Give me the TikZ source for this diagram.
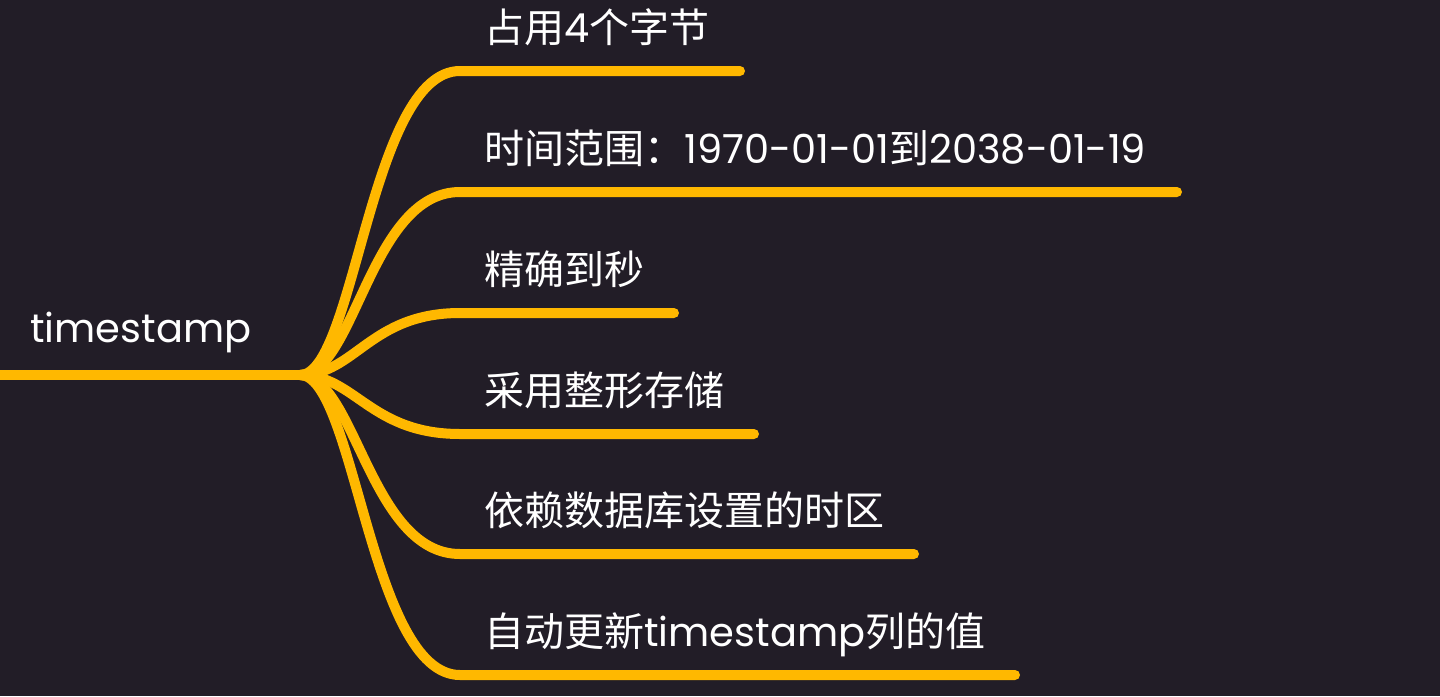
\documentclass[tikz,border=0pt]{standalone}
\usepackage{fontspec}
\usetikzlibrary{calc}
\setmainfont{Poppins}
\newfontfamily\cjk{Noto Sans CJK SC}
\definecolor{bgc}{HTML}{221D27}
\definecolor{linec}{HTML}{FFB800}
\begin{document}
\begin{tikzpicture}[x=1pt,y=-1pt,
  branch/.style={draw=linec,line width=10pt,line cap=round},
  label/.style={text=white,anchor=base west,inner sep=0pt,font=\fontsize{40}{42}\selectfont}]
\fill[bgc] (0,0) rectangle (1440,696);
\useasboundingbox (0,0) rectangle (1440,696);
\coordinate (start) at (-10,375);
\coordinate (hub) at (300,375);
\node[label] (root) at (30,342) {timestamp};
\foreach \i/\y/\e in {1/71/740,2/192/1177,3/313/674,4/434/754,5/554/914,6/675/1015}{
  \coordinate (b\i) at (460,\y);
  \coordinate (e\i) at (\e,\y);
}
\draw[branch,line cap=butt] (start) -- (hub);
\foreach \i in {1,...,6}{
  \draw[branch] (hub) .. controls ($(hub)+(55,0)$) and ($(b\i)+(-90,0)$) .. (b\i) -- (e\i);
}
\node[label] (t1) at (484,42) {{\cjk 占用}4{\cjk 个字节}};
\node[label] (t2) at (484,163) {{\cjk 时间范围：}1970-01-01{\cjk 到}2038-01-19};
\node[label] (t3) at (484,284) {{\cjk 精确到秒}};
\node[label] (t4) at (484,405) {{\cjk 采用整形存储}};
\node[label] (t5) at (484,525) {{\cjk 依赖数据库设置的时区}};
\node[label] (t6) at (484,646) {{\cjk 自动更新}timestamp{\cjk 列的值}};
\end{tikzpicture}
\end{document}
